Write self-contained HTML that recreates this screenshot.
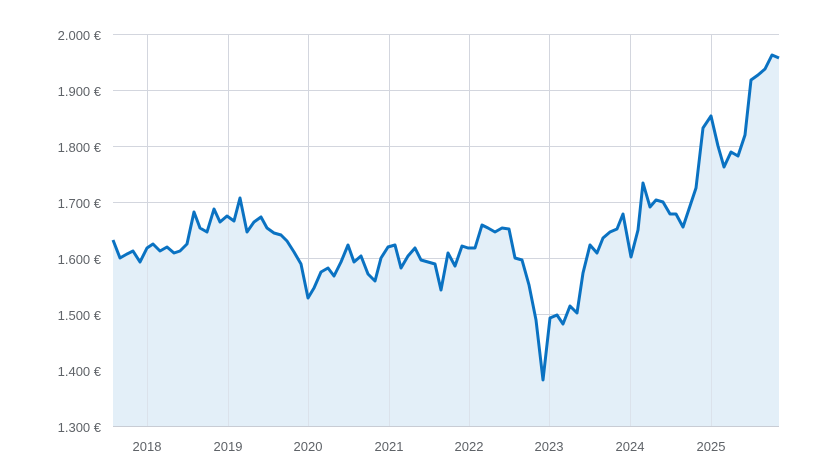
<!DOCTYPE html>
<html><head><meta charset="utf-8"><style>
body{margin:0;background:#fff;}
svg{display:block;font-family:"Liberation Sans",sans-serif;}
</style></head><body>
<svg width="832" height="472" viewBox="0 0 832 472">
<g stroke="#d3d6de" stroke-width="1">
<line x1="113" y1="34.5" x2="779" y2="34.5"/><line x1="113" y1="90.5" x2="779" y2="90.5"/>
<line x1="113" y1="146.5" x2="779" y2="146.5"/><line x1="113" y1="202.5" x2="779" y2="202.5"/>
<line x1="113" y1="258.5" x2="779" y2="258.5"/><line x1="113" y1="314.5" x2="779" y2="314.5"/>
<line x1="113" y1="370.5" x2="779" y2="370.5"/>
<line x1="147.5" y1="34" x2="147.5" y2="426"/><line x1="228.5" y1="34" x2="228.5" y2="426"/>
<line x1="308.5" y1="34" x2="308.5" y2="426"/><line x1="389.5" y1="34" x2="389.5" y2="426"/>
<line x1="469.5" y1="34" x2="469.5" y2="426"/><line x1="549.5" y1="34" x2="549.5" y2="426"/>
<line x1="630.5" y1="34" x2="630.5" y2="426"/><line x1="711.5" y1="34" x2="711.5" y2="426"/>
</g>
<path fill="#e3eff8" d="M113,426 L113,240 120,258 127,254 133,251 140,262 147,248 153,244 160,251 167,247 174,253 180,251 187,244 194,212 200,228 207,232 214,209 220,222 227,216 234,221 240,198 247,232 254,222 261,217 267,228 274,233 281,235 287,241 294,252 301,264 308,298 314,288 321,272 328,268 334,276 341,262 348,245 354,262 361,256 368,274 375,281 381,258 388,247 395,245 401,268 408,256 415,248 421,260 428,262 435,264 441,290 448,253 455,266 462,246 468,248 475,248 482,225 488,228 495,232 502,228 509,229 515,258 522,260 529,285 536,320 543,380 550,318 557,315 563,324 570,306 577,313 583,273 590,245 597,253 603,238 610,232 617,229 623,214 631,257 638,230 643,183 650,207 656,200 663,202 670,214 676,214 683,227 689,209 696,188 703,128 711,116 718,146 724,167 731,152 738,156 745,135 751,80 758,75 765,69 772,55 779,58 L779,426 Z"/>
<g stroke="#d3d6de" stroke-width="1">
<line x1="147.5" y1="34" x2="147.5" y2="426" stroke-opacity="0.5"/><line x1="228.5" y1="34" x2="228.5" y2="426" stroke-opacity="0.5"/>
<line x1="308.5" y1="34" x2="308.5" y2="426" stroke-opacity="0.5"/><line x1="389.5" y1="34" x2="389.5" y2="426" stroke-opacity="0.5"/>
<line x1="469.5" y1="34" x2="469.5" y2="426" stroke-opacity="0.5"/><line x1="549.5" y1="34" x2="549.5" y2="426" stroke-opacity="0.5"/>
<line x1="630.5" y1="34" x2="630.5" y2="426" stroke-opacity="0.5"/><line x1="711.5" y1="34" x2="711.5" y2="426" stroke-opacity="0.5"/>
</g>
<line x1="113" y1="426.5" x2="779" y2="426.5" stroke="#c8ccd4"/>
<polyline fill="none" stroke="#0a72c2" stroke-width="3" stroke-linejoin="round" points="113,240 120,258 127,254 133,251 140,262 147,248 153,244 160,251 167,247 174,253 180,251 187,244 194,212 200,228 207,232 214,209 220,222 227,216 234,221 240,198 247,232 254,222 261,217 267,228 274,233 281,235 287,241 294,252 301,264 308,298 314,288 321,272 328,268 334,276 341,262 348,245 354,262 361,256 368,274 375,281 381,258 388,247 395,245 401,268 408,256 415,248 421,260 428,262 435,264 441,290 448,253 455,266 462,246 468,248 475,248 482,225 488,228 495,232 502,228 509,229 515,258 522,260 529,285 536,320 543,380 550,318 557,315 563,324 570,306 577,313 583,273 590,245 597,253 603,238 610,232 617,229 623,214 631,257 638,230 643,183 650,207 656,200 663,202 670,214 676,214 683,227 689,209 696,188 703,128 711,116 718,146 724,167 731,152 738,156 745,135 751,80 758,75 765,69 772,55 779,58"/>
<g fill="#5f6368" font-size="13" text-anchor="end">
<text x="101" y="40">2.000 €</text><text x="101" y="96">1.900 €</text>
<text x="101" y="152">1.800 €</text><text x="101" y="208">1.700 €</text>
<text x="101" y="264">1.600 €</text><text x="101" y="320">1.500 €</text>
<text x="101" y="376">1.400 €</text><text x="101" y="432">1.300 €</text>
</g>
<g fill="#5f6368" font-size="13" text-anchor="middle">
<text x="147" y="451">2018</text><text x="228" y="451">2019</text><text x="308" y="451">2020</text>
<text x="389" y="451">2021</text><text x="469" y="451">2022</text><text x="549" y="451">2023</text>
<text x="630" y="451">2024</text><text x="711" y="451">2025</text>
</g>
</svg>
</body></html>
